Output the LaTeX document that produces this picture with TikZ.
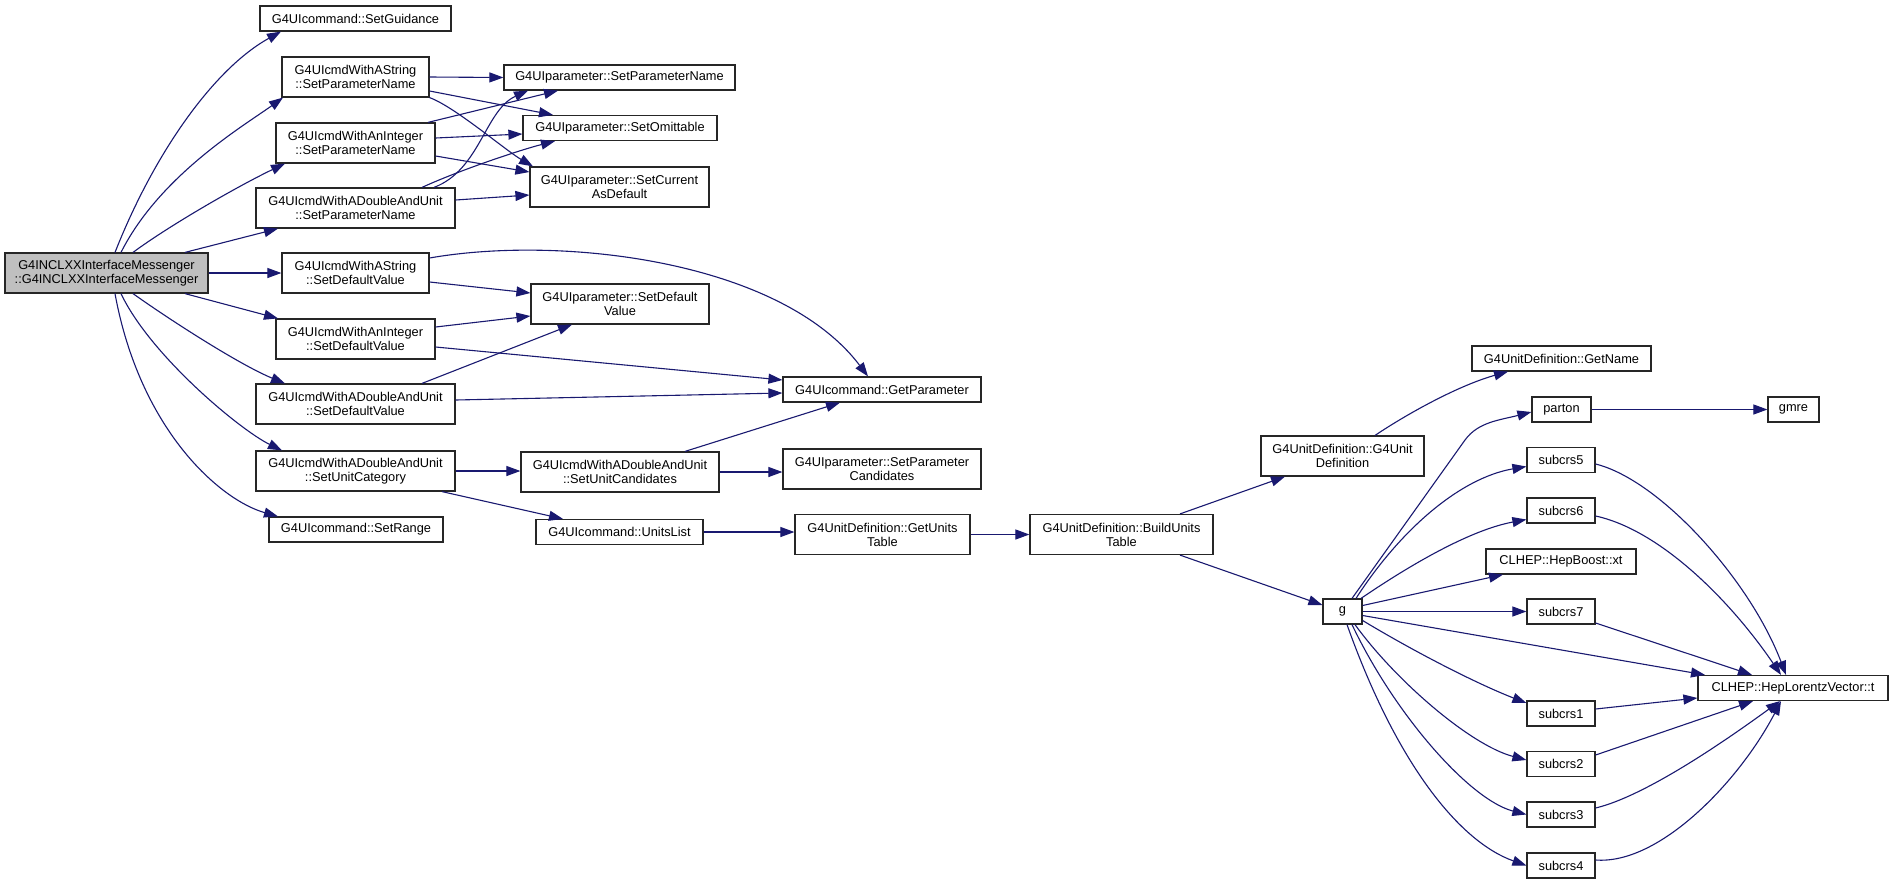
\documentclass[tikz,border=0pt]{standalone}
\usepackage{fontspec}
\setmainfont{Liberation Sans}
\usetikzlibrary{arrows.meta}
\definecolor{edgecol}{HTML}{191970}
\definecolor{maingray}{HTML}{BFBFBF}
\tikzset{
  box/.style={draw=black!85, line width=1.2pt, fill=white, inner sep=0pt, align=center,
              font=\fontsize{12.8}{14}\selectfont},
  edge/.style={draw=edgecol, line width=1.1pt, -{Triangle[length=14pt,width=10pt]}},
}
\begin{document}
\begin{tikzpicture}[x=1pt,y=-1pt]
\fill[white] (0,0) rectangle (1893,884);
\useasboundingbox (0,0) rectangle (1893,884);

% nodes
\node[box,minimum width=203pt,minimum height=40pt,fill=maingray] (main) at (106.5,273) {G4INCLXXInterfaceMessenger\\::G4INCLXXInterfaceMessenger};
\node[box,minimum width=191pt,minimum height=25pt] (sg) at (355.5,18.5) {G4UIcommand::SetGuidance};
\node[box,minimum width=147pt,minimum height=40pt] (spnS) at (355.5,77) {G4UIcmdWithAString\\::SetParameterName};
\node[box,minimum width=159pt,minimum height=40pt] (spnI) at (355.5,143) {G4UIcmdWithAnInteger\\::SetParameterName};
\node[box,minimum width=199pt,minimum height=40pt] (spnD) at (355.5,208) {G4UIcmdWithADoubleAndUnit\\::SetParameterName};
\node[box,minimum width=147pt,minimum height=40pt] (sdvS) at (355.5,273) {G4UIcmdWithAString\\::SetDefaultValue};
\node[box,minimum width=159pt,minimum height=40pt] (sdvI) at (355.5,339) {G4UIcmdWithAnInteger\\::SetDefaultValue};
\node[box,minimum width=199pt,minimum height=40pt] (sdvD) at (355.5,404) {G4UIcmdWithADoubleAndUnit\\::SetDefaultValue};
\node[box,minimum width=199pt,minimum height=40pt] (suc) at (355.5,471) {G4UIcmdWithADoubleAndUnit\\::SetUnitCategory};
\node[box,minimum width=174pt,minimum height=25pt] (sr) at (356,529.5) {G4UIcommand::SetRange};
\node[box,minimum width=231pt,minimum height=25pt] (pSPN) at (619.5,77.5) {G4UIparameter::SetParameterName};
\node[box,minimum width=194pt,minimum height=25pt] (pSO) at (620,128) {G4UIparameter::SetOmittable};
\node[box,minimum width=179pt,minimum height=40pt] (pSCAD) at (619.5,187) {G4UIparameter::SetCurrent\\AsDefault};
\node[box,minimum width=178pt,minimum height=40pt] (pSDV) at (620,304) {G4UIparameter::SetDefault\\Value};
\node[box,minimum width=198pt,minimum height=25pt] (gp) at (882,389.5) {G4UIcommand::GetParameter};
\node[box,minimum width=198pt,minimum height=40pt] (sucand) at (620,472) {G4UIcmdWithADoubleAndUnit\\::SetUnitCandidates};
\node[box,minimum width=167pt,minimum height=25pt] (ul) at (619.5,532) {G4UIcommand::UnitsList};
\node[box,minimum width=198pt,minimum height=40pt] (pSPC) at (882,469) {G4UIparameter::SetParameter\\Candidates};
\node[box,minimum width=175pt,minimum height=40pt] (gut) at (882.5,534.5) {G4UnitDefinition::GetUnits\\Table};
\node[box,minimum width=183pt,minimum height=40pt] (but) at (1121.5,534.5) {G4UnitDefinition::BuildUnits\\Table};
\node[box,minimum width=163pt,minimum height=40pt] (ud) at (1342.5,456) {G4UnitDefinition::G4Unit\\Definition};
\node[box,minimum width=179pt,minimum height=25pt] (gn) at (1561.5,358.5) {G4UnitDefinition::GetName};
\node[box,minimum width=59pt,minimum height=25pt] (parton) at (1561.5,409.5) {parton};
\node[box,minimum width=51pt,minimum height=25pt] (gmre) at (1793.5,409.5) {gmre};
\node[box,minimum width=68pt,minimum height=25pt] (s5) at (1561,460) {subcrs5};
\node[box,minimum width=68pt,minimum height=25pt] (s6) at (1561,510.5) {subcrs6};
\node[box,minimum width=150pt,minimum height=25pt] (hb) at (1561,561.5) {CLHEP::HepBoost::xt};
\node[box,minimum width=68pt,minimum height=25pt] (s7) at (1561,611.5) {subcrs7};
\node[box,minimum width=39pt,minimum height=25pt] (g) at (1342.5,611.5) {g};
\node[box,minimum width=190pt,minimum height=25pt] (lt) at (1793,688) {CLHEP::HepLorentzVector::t};
\node[box,minimum width=68pt,minimum height=25pt] (s1) at (1561,713.5) {subcrs1};
\node[box,minimum width=68pt,minimum height=25pt] (s2) at (1561,764) {subcrs2};
\node[box,minimum width=68pt,minimum height=25pt] (s3) at (1561,814.5) {subcrs3};
\node[box,minimum width=68pt,minimum height=25pt] (s4) at (1561,865.5) {subcrs4};

% edges from main
\draw[edge] ([xshift=8.5pt]main.north) .. controls (155,151) and (215,68) .. ([xshift=-74.5pt]sg.south);
\draw[edge] ([xshift=14.5pt]main.north) .. controls (160,175) and (245,125) .. ([xshift=-72.5pt]spnS.south);
\draw[edge] ([xshift=26.5pt]main.north) .. controls (170,225) and (240,185) .. ([xshift=-70.5pt]spnI.south);
\draw[edge] ([xshift=78.5pt]main.north) -- ([xshift=-77.5pt]spnD.south);
\draw[edge] (main.east) -- (sdvS.west);
\draw[edge] ([xshift=78.5pt]main.south) -- ([xshift=-77.5pt]sdvI.north);
\draw[edge] ([xshift=26.5pt]main.south) .. controls (170,320) and (240,365) .. ([xshift=-70.5pt]sdvD.north);
\draw[edge] ([xshift=14.5pt]main.south) .. controls (150,355) and (240,430) .. ([xshift=-73.5pt]suc.north);
\draw[edge] ([xshift=8.5pt]main.south) .. controls (140,430) and (220,500) .. ([xshift=-78pt]sr.north);

% SetParameterName group
\draw[edge] (spnS.east) -- (pSPN.west);
\draw[edge] ([yshift=-14pt]spnS.east) -- ([xshift=-67pt]pSO.north);
\draw[edge] (spnS.south east) .. controls (455,107) and (505,150) .. ([xshift=-86.5pt]pSCAD.north);
\draw[edge] ([xshift=72.5pt]spnI.north) -- ([xshift=-61.5pt]pSPN.south);
\draw[edge] ([yshift=5pt]spnI.east) -- ([yshift=-6pt]pSO.west);
\draw[edge] ([yshift=-13pt]spnI.east) -- ([yshift=15pt]pSCAD.west);
\draw[edge] ([xshift=78.5pt]spnD.north) .. controls (480,170) and (485,110) .. ([xshift=-91.5pt]pSPN.south);
\draw[edge] ([xshift=66.5pt]spnD.north) .. controls (460,170) and (520,150) .. ([xshift=-65pt]pSO.south);
\draw[edge] ([yshift=8pt]spnD.east) -- ([yshift=-8pt]pSCAD.west);

% SetDefaultValue group
\draw[edge] ([yshift=15pt]sdvS.east) .. controls (560,235) and (780,260) .. ([xshift=-14pt]gp.north);
\draw[edge] ([yshift=-9pt]sdvS.east) -- ([yshift=11pt]pSDV.west);
\draw[edge] ([yshift=12pt]sdvI.east) -- ([yshift=-12pt]pSDV.west);
\draw[edge] ([yshift=-8pt]sdvI.east) -- ([yshift=9.5pt]gp.west);
\draw[edge] ([xshift=66.5pt]sdvD.north) -- ([xshift=-48pt]pSDV.south);
\draw[edge] ([yshift=4pt]sdvD.east) -- ([yshift=-3.5pt]gp.west);

% unit category group
\draw[edge] (suc.east) -- (suc.east -| sucand.west);
\draw[edge] ([xshift=86.5pt]suc.south) -- ([xshift=-56.5pt]ul.north);
\draw[edge] ([xshift=65pt]sucand.north) -- ([xshift=-42pt]gp.south);
\draw[edge] (sucand.east) -- (sucand.east -| pSPC.west);
\draw[edge] (ul.east) -- (ul.east -| gut.west);
\draw[edge] (gut.east) -- (but.west);
\draw[edge] ([xshift=58.5pt]but.north) -- ([xshift=-57.5pt]ud.south);
\draw[edge] ([xshift=58.5pt]but.south) -- ([yshift=6.5pt]g.west);
\draw[edge] ([xshift=32.5pt]ud.north) .. controls (1410,412) and (1460,385) .. ([xshift=-53.5pt]gn.south);

% from g
\draw[edge] ([xshift=9.5pt]g.north) -- (1465,440) .. controls (1478,422) and (1500,420) .. ([yshift=-2.5pt]parton.west);
\draw[edge] ([xshift=13.5pt]g.north) .. controls (1400,530) and (1460,478) .. ([yshift=-6.5pt]s5.west);
\draw[edge] ([xshift=18.5pt]g.north) .. controls (1410,565) and (1470,530) .. ([yshift=-9pt]s6.west);
\draw[edge] ([yshift=6pt]g.east) -- ([xshift=-58pt]hb.south);
\draw[edge] (g.east) -- (s7.west);
\draw[edge] ([yshift=-4pt]g.east) -- ([xshift=-88pt]lt.north);
\draw[edge] ([yshift=-9pt]g.east) .. controls (1420,655) and (1480,685) .. ([yshift=10.5pt]s1.west);
\draw[edge] ([xshift=12.5pt]g.south) .. controls (1395,680) and (1470,745) .. ([yshift=4pt]s2.west);
\draw[edge] ([xshift=9.5pt]g.south) .. controls (1395,715) and (1470,800) .. (s3.west);
\draw[edge] ([xshift=4.5pt]g.south) .. controls (1397,765) and (1460,842) .. (s4.west);
\draw[edge] (parton.east) -- (gmre.west);

% into HepLorentzVector::t
\draw[edge] ([yshift=-4pt]s5.east) .. controls (1660,480) and (1750,580) .. ([xshift=-7pt]lt.north);
\draw[edge] ([yshift=-5.5pt]s6.east) .. controls (1660,530) and (1730,600) .. ([xshift=-12pt]lt.north);
\draw[edge] ([yshift=-11.5pt]s7.east) -- ([xshift=-41pt]lt.north);
\draw[edge] ([yshift=4.5pt]s1.east) -- ([yshift=-10pt]lt.west);
\draw[edge] ([yshift=9pt]s2.east) -- ([xshift=-40pt]lt.south);
\draw[edge] ([yshift=6.5pt]s3.east) .. controls (1650,795) and (1740,730) .. ([xshift=-13pt]lt.south);
\draw[edge] ([yshift=5.5pt]s4.east) .. controls (1660,865) and (1740,780) .. ([xshift=-12pt]lt.south);
\end{tikzpicture}
\end{document}
